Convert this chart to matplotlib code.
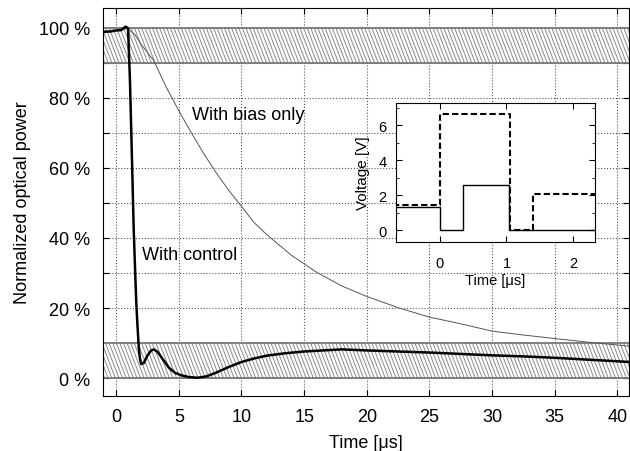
import numpy as np
import matplotlib
matplotlib.use("Agg")
import matplotlib.pyplot as plt
from matplotlib.ticker import MultipleLocator, FuncFormatter
from matplotlib.collections import LineCollection

plt.rcParams['font.family'] = ['Liberation Sans', 'DejaVu Sans']

# courbe avec polarisation seule (trait fin)
t_bias = [-1, -0.5, 0, 0.5, 0.9, 1.5, 2, 3, 4, 5, 6, 7, 8, 9, 10, 11, 12, 14, 16, 18,
          20, 22.5, 25, 27.5, 30, 32.5, 35, 37.5, 41]
p_bias = [99.0, 99.0, 99.2, 99.5, 99.8, 98.0, 95.2, 90.6, 83.0, 76.3, 70.0, 64.0, 58.5,
          53.5, 49.0, 44.4, 41.0, 35.0, 30.2, 26.3, 23.3, 20.1, 17.4, 15.5, 13.4, 12.3,
          11.3, 10.3, 9.1]

# courbe avec commande (trait épais)
t_ctrl = [-1.0, -0.5, 0.0, 0.4, 0.75, 0.95, 1.1, 1.2, 1.3, 1.4, 1.5, 1.6, 1.7, 1.8, 1.9,
          2.0, 2.2, 2.5, 2.8, 3.0, 3.3, 3.7, 4.2, 4.7, 5.2, 5.8, 6.5, 7.2, 8.0, 9.0, 10.0,
          11.0, 12.0, 13.5, 15, 17, 18, 20, 22.5, 25, 27.5, 30, 32.5, 35, 38, 41]
p_ctrl = [98.8, 98.9, 99.2, 99.3, 100.3, 99.8, 85.0, 71.0, 57.0, 42.5, 32.0, 22.0, 15.0,
          9.0, 5.5, 4.0, 4.3, 6.5, 7.9, 8.2, 7.5, 5.5, 3.0, 1.5, 0.8, 0.3, 0.1, 0.5, 1.6,
          3.2, 4.6, 5.6, 6.4, 7.1, 7.6, 8.0, 8.2, 7.9, 7.6, 7.3, 6.9, 6.5, 6.2, 5.8, 5.2, 4.6]

# bandes de tolérance (%)
bands = [(0, 10), (90, 100)]

# encart : tensions de commande
t_v = [-0.7, 0.0, 0.35, 1.04, 2.4]
v_solid = [1.3, 0.0, 2.59, 0.0, 0.0]
t_vd = [-0.7, 0.0, 1.05, 1.4, 2.4]
v_dashed = [1.45, 6.63, 0.0, 2.06, 2.06]

fig = plt.figure(figsize=(6.3, 4.52), dpi=100)
ax = fig.add_axes([0.1635, 0.1217, 0.8345, 0.8583])

# bandes hachurées (hachures raides, comme gnuplot)
step = 3.6 / 526
shift = 13.5 / 526
for lo, hi in bands:
    ax.axhspan(lo, hi, facecolor='white', edgecolor='none', zorder=1)
    x0 = np.arange(-0.05, 1.0, step)
    segs = [[(x, hi), (x + shift, lo)] for x in x0]
    lc = LineCollection(segs, colors='#8a8a8a', linewidths=0.7,
                        transform=ax.get_yaxis_transform(), zorder=1.5)
    ax.add_collection(lc, autolim=False)
    ax.axhline(lo, color='#777777', linewidth=1.3, zorder=2)
    ax.axhline(hi, color='#777777', linewidth=1.3, zorder=2)

ax.plot(t_bias, p_bias, color='#555555', linewidth=0.7, zorder=3)
ax.plot(t_ctrl, p_ctrl, color='black', linewidth=1.8, zorder=4)

ax.set_xlim(-1.05, 40.9)
ax.set_ylim(-5.1, 105.6)
ax.xaxis.set_major_locator(MultipleLocator(5))
ax.yaxis.set_major_locator(MultipleLocator(10))
ax.yaxis.set_major_formatter(FuncFormatter(
    lambda v, p: f"{int(round(v))} %" if round(v) % 20 == 0 else ""))
ax.tick_params(direction='in', top=True, right=True, length=4, labelsize=13)
ax.tick_params(axis='y', pad=9)
ax.tick_params(axis='x', pad=9)
ax.grid(True, linestyle=':', color='#555555', linewidth=0.8)
ax.set_axisbelow(True)

ax.set_xlabel("Time [μs]", fontsize=13, labelpad=6)
ax.set_ylabel("Normalized optical power", fontsize=13, labelpad=6)

ax.text(6.06, 75.1, "With bias only", fontsize=13, va='center', zorder=5)
ax.text(2.1, 35.3, "With control", fontsize=13, va='center', zorder=5)

# encart
ins = fig.add_axes([0.6286, 0.4617, 0.3158, 0.3083])
ins.plot(t_v, v_solid, drawstyle='steps-post', color='black', linewidth=1.0)
ins.plot(t_vd, v_dashed, drawstyle='steps-post', color='black', linewidth=1.5,
         dashes=(3, 1.5))
ins.set_xlim(-0.66, 2.33)
ins.set_ylim(-0.7, 7.26)
ins.xaxis.set_major_locator(MultipleLocator(1))
ins.yaxis.set_major_locator(MultipleLocator(2))
ins.yaxis.set_minor_locator(MultipleLocator(1))
ins.tick_params(which='both', direction='in', top=True, right=True, labelsize=10.5)
ins.tick_params(which='major', length=4)
ins.tick_params(which='minor', length=2.5)
ins.tick_params(axis='x', pad=10)
ins.tick_params(axis='y', pad=7)
ins.set_xlabel("Time [μs]", fontsize=10.5, labelpad=2)
ins.set_ylabel("Voltage [V]", fontsize=11, labelpad=6)

fig.savefig("out.png", dpi=100)
